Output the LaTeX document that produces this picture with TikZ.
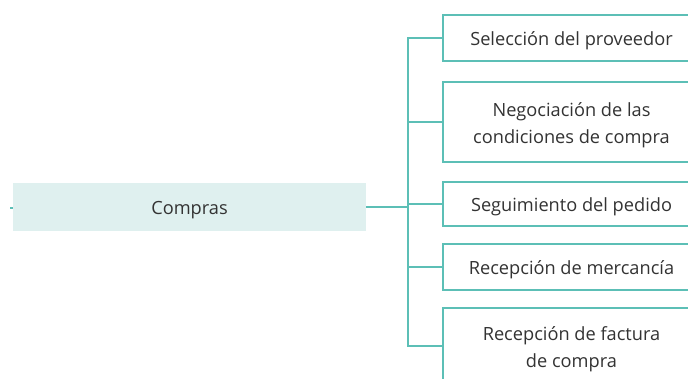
\documentclass[tikz,border=0pt]{standalone}
\usepackage{fontspec}
\setmainfont{Open Sans}
\definecolor{teal1}{HTML}{5CBFB6}
\definecolor{tealfill}{HTML}{DFF0EF}
\definecolor{txt}{HTML}{333333}
\begin{document}
\begin{tikzpicture}[x=1pt,y=1pt,
  link/.style={draw=teal1,line width=2pt},
  item/.style={draw=teal1,line width=2pt,fill=white,
    minimum width=257pt,inner sep=0pt},
  itemtext/.style={text=txt,align=center,inner sep=0pt,yshift=-3pt,
    font=\fontsize{18.2}{27}\selectfont},
  root/.style={fill=tealfill,minimum width=353pt,minimum height=48pt,inner sep=0pt}]
\clip (0,0) rectangle (688,-378);
\fill[white] (0,0) rectangle (688,-378);
\node[root,label={[itemtext]center:Compras}] (compras) at (189.5,-207) {};
\coordinate (bus) at (408,0);
\node[item,minimum height=46pt,
  label={[itemtext]center:Selección del proveedor}] (b1) at (571.5,-38) {};
\node[item,minimum height=80pt,
  label={[itemtext]center:{Negociación de las\\condiciones de compra}}] (b2) at (571.5,-122) {};
\node[item,minimum height=44pt,
  label={[itemtext]center:Seguimiento del pedido}] (b3) at (571.5,-204) {};
\node[item,minimum height=46pt,
  label={[itemtext]center:Recepción de mercancía}] (b4) at (571.5,-267) {};
\node[item,minimum height=76pt,
  label={[itemtext]center:{Recepción de factura\\de compra}}] (b5) at (571.5,-346) {};
\draw[link] (b1.west) -- (b1.west -| bus) -- (b5.west -| bus) -- (b5.west);
\draw[link] (b2.west) -- (b2.west -| bus);
\draw[link] (b3.west) -- (b3.west -| bus);
\draw[link] (b4.west) -- (b4.west -| bus);
\draw[link] (compras.east) -- (compras.east -| bus);
\draw[link,line width=1.2pt] ([yshift=-1pt]compras.west) -- ++(-3,0);
\end{tikzpicture}
\end{document}
